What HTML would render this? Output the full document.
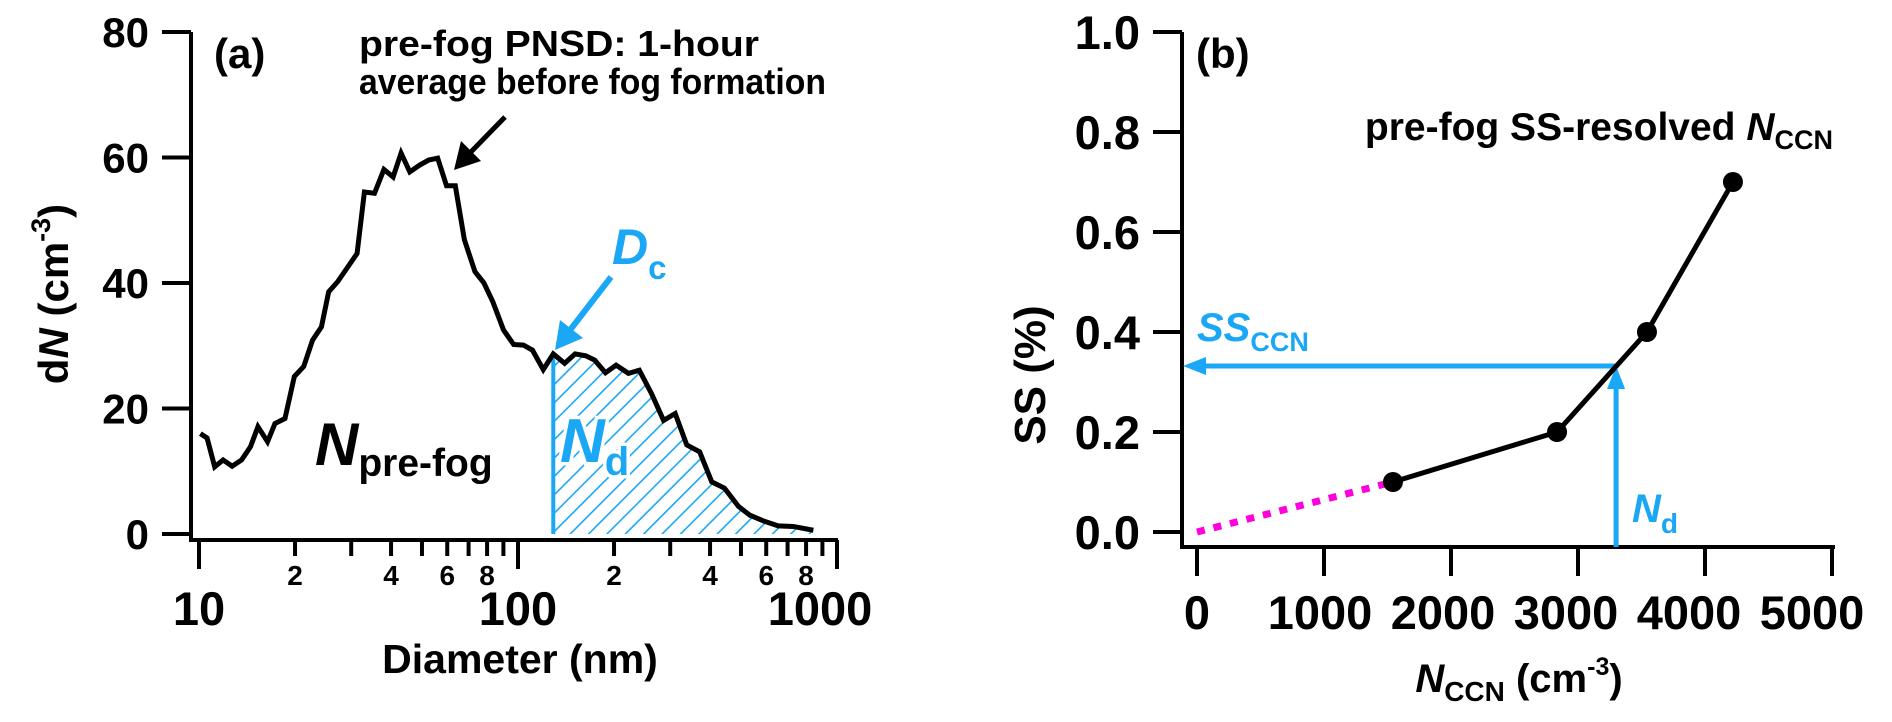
<!DOCTYPE html>
<html><head><meta charset="utf-8"><style>
html,body{margin:0;padding:0;background:#fff;}
svg{display:block;font-family:"Liberation Sans",Arial,sans-serif;font-weight:bold;}
</style></head><body>
<svg id="fig" width="1892" height="722" viewBox="0 0 1892 722" xmlns="http://www.w3.org/2000/svg">
<defs>
<pattern id="hatch" width="13" height="13" patternUnits="userSpaceOnUse" patternTransform="rotate(45)">
<line x1="0" y1="0" x2="0" y2="13" stroke="#1aa7f5" stroke-width="3.2"/>
</pattern>
</defs>
<g id="panelA"></g>
<g id="panelB"></g>
</svg>
<script>
// ---- Panel (a) data ----
const diam = [10.1,10.6,11.2,11.9,12.7,13.6,14.5,15.3,16.4,17.3,18.6,19.9,21.3,22.7,24.2,25.5,27.2,31.3,33.0,35.5,38.0,40.6,43.0,45.8,49.2,52.5,56.0,59.7,63.6,67.9,73.3,78.2,83.4,90.1,96.9,104,111,120,129,140,151,163,174,188,203,222,240,262,286,311,338,371,405,444,491,533,587,654,729,843];
const dNvals = [16.0,15.3,10.7,11.8,10.8,11.8,13.9,17.1,14.7,17.6,18.4,25.1,26.7,30.9,33.0,38.6,40.2,44.7,54.5,54.3,58.1,56.9,60.7,57.7,58.8,59.6,59.9,55.5,55.5,46.9,41.8,40.0,37.0,32.5,30.2,30.1,29.3,26.2,28.7,27.2,28.7,28.4,27.7,25.7,26.9,25.6,26.1,22.4,18.1,19.2,14.2,13.1,8.3,7.3,4.4,3.0,2.1,1.3,1.2,0.6];
const dcDiam = 129;
const aYTicks = [0,20,40,60,80];
const aXMajor = [10,100,1000];
const aXMinorLabels = [2,4,6,8];
// ---- Panel (b) data ----
const nccn = [1543,2835,3543,4220];
const ssVals = [0.1,0.2,0.4,0.7];
const ndValue = 3300;
const ssCcnValue = 0.332;
const bYTicks = [0,0.2,0.4,0.6,0.8,1.0];
const bXTicks = [0,1000,2000,3000,4000,5000];

const NS = "http://www.w3.org/2000/svg";
function mk(parent, tag, attrs, text){
  const e = document.createElementNS(NS, tag);
  for (const k in attrs) e.setAttribute(k, attrs[k]);
  if (text !== undefined) e.textContent = text;
  parent.appendChild(e);
  return e;
}
const ax = d => 199 + 319*Math.log10(d/10);
const ay = v => 534 - v*6.275;
const bx = v => 1197 + v*0.127;
const by = v => 532 - v*500;

const A = document.getElementById('panelA');
const B = document.getElementById('panelB');

// ===== Panel A =====
let hp = `M${ax(dcDiam)},${ay(0)} `;
const dcIdx = diam.indexOf(dcDiam);
for (let i = dcIdx; i < diam.length; i++) hp += `L${ax(diam[i])},${ay(dNvals[i])} `;
hp += `L${ax(diam[diam.length-1])},${ay(0)} Z`;
let e = mk(A,'path',{d:hp, fill:'url(#hatch)', stroke:'none'});


e = mk(A,'line',{x1:ax(dcDiam),y1:ay(0),x2:ax(dcDiam),y2:ay(dNvals[dcIdx]),stroke:'#1aa7f5','stroke-width':4});



e = mk(A,'path',{d:'M191,32 L191,540 L838,540',fill:'none',stroke:'#000','stroke-width':4});


aYTicks.forEach(v=>{
  const t = mk(A,'line',{x1:162,y1:ay(v),x2:191,y2:ay(v),stroke:'#000','stroke-width':4});
  
  
  const l = mk(A,'text',{x:149,y:ay(v)+15,'text-anchor':'end','font-size':42},String(v));
  
  
});
for (let dec=10; dec<1000; dec*=10){
  for (let m=1; m<=9; m++){
    const d = dec*m; const x = ax(d);
    const major = (m===1);
    const t = mk(A,'line',{x1:x,y1:540,x2:x,y2:major?569:556,stroke:'#000','stroke-width':4});
    
    
    if (aXMinorLabels.indexOf(m) >= 0){
      const l = mk(A,'text',{x:x,y:585,'text-anchor':'middle','font-size':28},String(m));
      
      
    }
  }
}
e = mk(A,'line',{x1:ax(1000),y1:540,x2:ax(1000),y2:569,stroke:'#000','stroke-width':4});


aXMajor.forEach(v=>{
  const off = v >= 1000 ? -17 : 0;
  const l = mk(A,'text',{x:ax(v)+off,y:625,'text-anchor':'middle','font-size':47},String(v));
  
  
});

let cp = '';
diam.forEach((d,i)=>{ cp += (i?'L':'M') + ax(d) + ',' + ay(dNvals[i]) + ' '; });
e = mk(A,'path',{d:cp,fill:'none',stroke:'#000','stroke-width':5,'stroke-linejoin':'miter'});



e = mk(A,'text',{x:520,y:673,'text-anchor':'middle','font-size':41},'Diameter (nm)');


e = mk(A,'text',{transform:'translate(68,294) rotate(-90)','text-anchor':'middle','font-size':42});


e.innerHTML = 'd<tspan font-style="italic">N</tspan> (cm<tspan font-size="27" dy="-18">-3</tspan><tspan dy="18">)</tspan>';
e = mk(A,'text',{x:214,y:68,'font-size':42},'(a)');


e = mk(A,'text',{x:359,y:56,'font-size':36,textLength:400,lengthAdjust:'spacingAndGlyphs'},'pre-fog PNSD: 1-hour');


e = mk(A,'text',{x:359,y:94,'font-size':36,textLength:467,lengthAdjust:'spacingAndGlyphs'},'average before fog formation');


e = mk(A,'line',{x1:505,y1:117,x2:466,y2:157,stroke:'#000','stroke-width':5});


e = mk(A,'path',{d:'M454,170 L461,141 L481,161 Z',fill:'#000'});


e = mk(A,'line',{x1:611,y1:277,x2:567,y2:334,stroke:'#1aa7f5','stroke-width':6});


e = mk(A,'path',{d:'M555,350 L560,320 L583,338 Z',fill:'#1aa7f5'});


e = mk(A,'text',{x:612,y:264,'font-size':50,fill:'#1aa7f5','font-style':'italic'});


e.innerHTML = 'D<tspan font-style="normal" font-size="33" dy="15">c</tspan>';
e = mk(A,'text',{x:315,y:465,'font-size':60,'font-style':'italic'});


e.innerHTML = 'N<tspan font-style="normal" font-size="39" dy="11">pre-fog</tspan>';
e = mk(A,'text',{x:560,y:462,'font-size':62,'font-style':'italic',fill:'#1aa7f5',stroke:'#fff','stroke-width':7,'paint-order':'stroke'});


e.innerHTML = 'N<tspan font-style="normal" font-size="40" dy="13">d</tspan>';

// ===== Panel B =====
e = mk(B,'path',{d:'M1182,32 L1182,547 L1835,547',fill:'none',stroke:'#000','stroke-width':4});


bYTicks.forEach(v=>{
  const t = mk(B,'line',{x1:1153,y1:by(v),x2:1182,y2:by(v),stroke:'#000','stroke-width':4});
  
  
  const l = mk(B,'text',{x:1140,y:by(v)+17,'text-anchor':'end','font-size':47},v.toFixed(1));
  
  
});
bXTicks.forEach(v=>{
  const t = mk(B,'line',{x1:bx(v),y1:547,x2:bx(v),y2:576,stroke:'#000','stroke-width':4});
  
  
  const l = mk(B,'text',{x:bx(v)-v/250,y:629,'text-anchor':'middle','font-size':47},String(v));
  
  
});
e = mk(B,'line',{x1:bx(0),y1:by(0),x2:bx(nccn[0]),y2:by(ssVals[0]),stroke:'#ff00dd','stroke-width':7,'stroke-dasharray':'8 9'});


e = mk(B,'line',{x1:bx(ndValue),y1:by(ssCcnValue),x2:1196,y2:by(ssCcnValue),stroke:'#1aa7f5','stroke-width':5});


e = mk(B,'path',{d:`M1183,${by(ssCcnValue)} L1206,${by(ssCcnValue)-9} L1206,${by(ssCcnValue)+9} Z`,fill:'#1aa7f5'});


e = mk(B,'line',{x1:bx(ndValue),y1:547,x2:bx(ndValue),y2:by(ssCcnValue)+18,stroke:'#1aa7f5','stroke-width':5});


e = mk(B,'path',{d:`M${bx(ndValue)},${by(ssCcnValue)} L${bx(ndValue)-9},${by(ssCcnValue)+23} L${bx(ndValue)+9},${by(ssCcnValue)+23} Z`,fill:'#1aa7f5'});


let bp = '';
nccn.forEach((n,i)=>{ bp += (i?'L':'M') + bx(n) + ',' + by(ssVals[i]) + ' '; });
e = mk(B,'path',{d:bp,fill:'none',stroke:'#000','stroke-width':5});


nccn.forEach((n,i)=>{
  const c = mk(B,'circle',{cx:bx(n),cy:by(ssVals[i]),r:10,fill:'#000'});
  
  
});
e = mk(B,'text',{x:1196,y:68,'font-size':42},'(b)');


e = mk(B,'text',{x:1833,y:140,'font-size':39,'text-anchor':'end'});


e.innerHTML = 'pre-fog SS-resolved <tspan font-style="italic">N</tspan><tspan font-size="27" dy="9">CCN</tspan>';
e = mk(B,'text',{x:1197,y:341,'font-size':40,'font-style':'italic',fill:'#1aa7f5'});


e.innerHTML = 'SS<tspan font-style="normal" font-size="27" dy="10">CCN</tspan>';
e = mk(B,'text',{x:1632,y:522,'font-size':40,'font-style':'italic',fill:'#1aa7f5'});


e.innerHTML = 'N<tspan font-style="normal" font-size="28" dy="11">d</tspan>';
e = mk(B,'text',{transform:'translate(1045,375) rotate(-90)','text-anchor':'middle','font-size':44},'SS (%)');


e = mk(B,'text',{x:1519,y:692,'text-anchor':'middle','font-size':40});


e.innerHTML = '<tspan font-style="italic">N</tspan><tspan font-size="28" dy="9">CCN</tspan><tspan dy="-9"> (cm</tspan><tspan font-size="25" dy="-17">-3</tspan><tspan dy="17">)</tspan>';
</script>
</body></html>
